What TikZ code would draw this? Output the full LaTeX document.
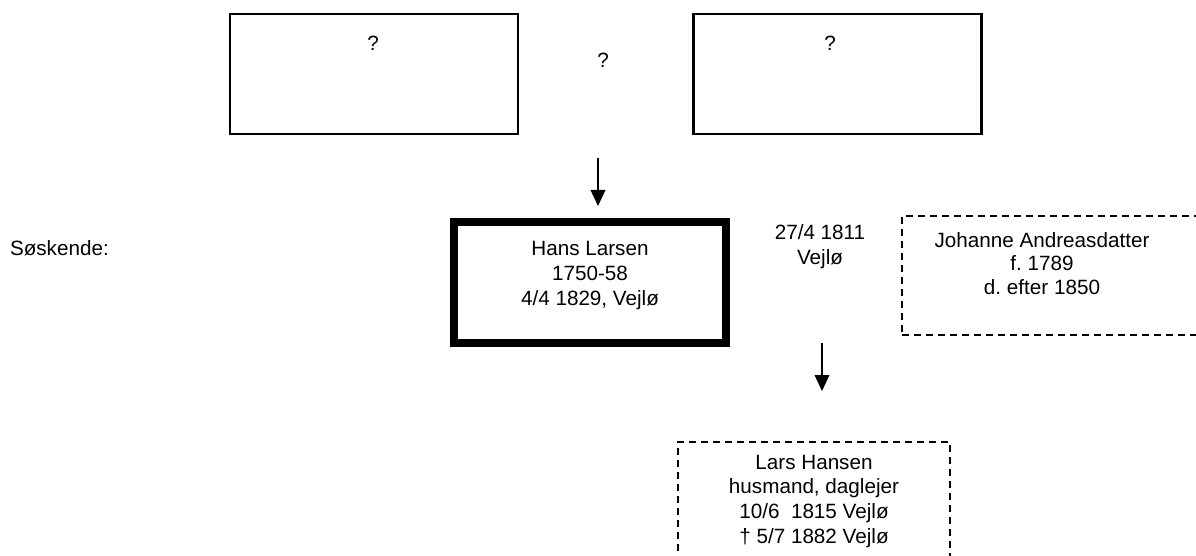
\documentclass[tikz,border=0pt]{standalone}
\usepackage{fontspec}
\setmainfont{Liberation Sans}
\usetikzlibrary{arrows.meta}
\frenchspacing
\begin{document}
\begin{tikzpicture}[x=0.75pt,y=-0.75pt,
  every node/.style={font=\fontsize{15.5}{18.5}\selectfont, inner sep=0pt, outer sep=0pt},
  plainbox/.style={draw, line width=1.6pt, minimum width=216pt, minimum height=90pt},
  mainbox/.style={draw, line width=6pt, minimum width=204pt, minimum height=90.75pt},
  dashbox/.style={draw, line width=1.1pt, dash pattern=on 5.25pt off 3.75pt},
  txt/.style={align=center, anchor=base},
  arr/.style={line width=1.1pt, -{Triangle[width=11pt,length=12pt]}}]
\useasboundingbox (0,0) rectangle (1196,556);
% top boxes
\node[plainbox] (fa) at (374,74) {};
\node[plainbox] (mo) at (837.5,74) {};
\node[txt] (qa) at (373,51) {?};
\node[txt] (qm) at (603,68) {?};
\node[txt] (qb) at (830,51) {?};
% arrow 1
\coordinate (a1s) at (598,158);
\coordinate (a1e) at (598,206);
\draw[arr] (a1s) -- (a1e);
% siblings
\node[anchor=base west] (sos) at (10,255) {Søskende:};
% Hans box
\node[mainbox] (hans) at (590,282.5) {};
\node[txt] (hanst) at (590,305) {Hans Larsen\\1750-58\\4/4 1829, Vejlø};
% marriage
\node[txt] (gift) at (820,264) {27/4 1811\\Vejlø};
% Johanne
\node[dashbox, minimum width=238.5pt, minimum height=89.25pt] (joh) at (1061,275.5) {};
\node[txt, font=\fontsize{15.5}{17.5}\selectfont] (joht) at (1042,294) {Johanne Andreasdatter\\f. 1789\\d. efter 1850};
% arrow 2
\coordinate (a2s) at (822,343);
\coordinate (a2e) at (822,391);
\draw[arr] (a2s) -- (a2e);
% Lars
\node[dashbox, minimum width=204pt, minimum height=118.5pt] (lars) at (814,521) {};
\node[txt] (larst) at (814,543) {Lars Hansen\\husmand, daglejer\\10/6\ \ 1815 Vejlø\\† 5/7 1882 Vejlø};
\end{tikzpicture}
\end{document}
